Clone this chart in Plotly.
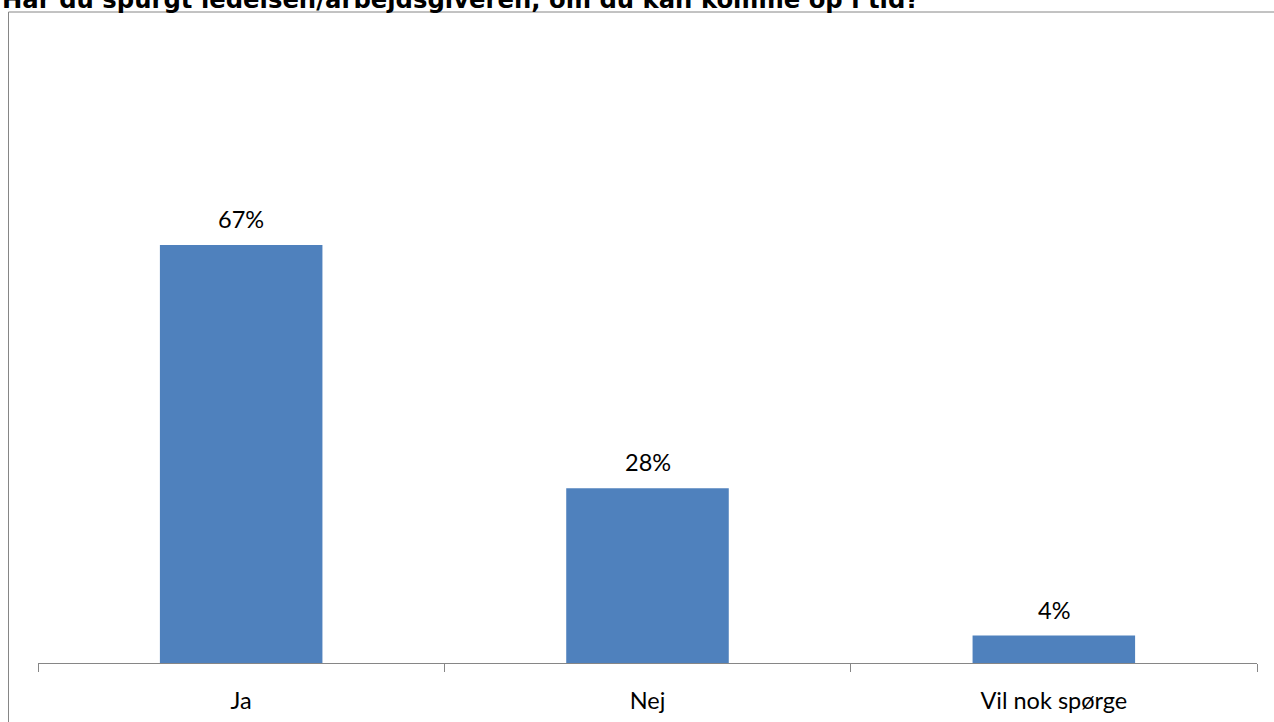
import plotly.graph_objects as go

categories = ["Ja", "Nej", "Vil nok spørge"]
values = [0.67, 0.28, 0.044]
title_text = "Har du spurgt ledelsen/arbejdsgiveren, om du kan komme op i tid?"

W, H = 1274, 722
L, R, T, B = 38, 17, 39, 59
ph = H - T - B
pw = W - L - R

def py(y):
    return (H - B - y) / ph

def px(x):
    return (x - L) / pw

LABEL_FONT = dict(family="Lato", size=23.5, color="#000000")

fig = go.Figure(go.Bar(
    x=categories, y=values,
    marker=dict(color="#4F81BD", line=dict(width=0)),
    cliponaxis=False,
    hoverinfo="x+y",
))

annotations = [dict(
    text=f"{v:.0%}", x=c, y=v, xref="x", yref="y",
    xanchor="center", yanchor="bottom", yshift=10, showarrow=False,
    font=LABEL_FONT,
) for c, v in zip(categories, values)]

annotations.append(dict(
    text="<b>" + title_text + "</b>", xref="paper", yref="paper",
    x=px(0), y=py(16), xanchor="left", yanchor="bottom", showarrow=False,
    font=dict(family="DejaVu Sans", size=24.3, color="#000000"),
))

fig.update_layout(
    width=W, height=H,
    margin=dict(l=L, r=R, t=T, b=B, autoexpand=False),
    paper_bgcolor="white", plot_bgcolor="white",
    bargap=0.6,
    showlegend=False,
    xaxis=dict(
        showline=True, linecolor="#868686", linewidth=1,
        ticks="outside", tickson="boundaries", ticklen=8, tickcolor="#868686",
        tickfont=LABEL_FONT, ticklabelstandoff=17, automargin=False,
        showgrid=False, range=[-0.5, 2.5],
    ),
    yaxis=dict(visible=False, range=[0, 1], showgrid=False, zeroline=False, automargin=False),
    shapes=[dict(
        type="rect", xref="paper", yref="paper",
        x0=px(8.5), x1=px(1290), y0=py(740), y1=py(12),
        line=dict(color="#868686", width=1), fillcolor="rgba(0,0,0,0)", layer="below",
    )],
    annotations=annotations,
)

fig.write_html(
    "out.html",
    config={"displayModeBar": False},
    post_script="document.body.style.margin='0px';document.body.style.overflow='hidden';",
)
